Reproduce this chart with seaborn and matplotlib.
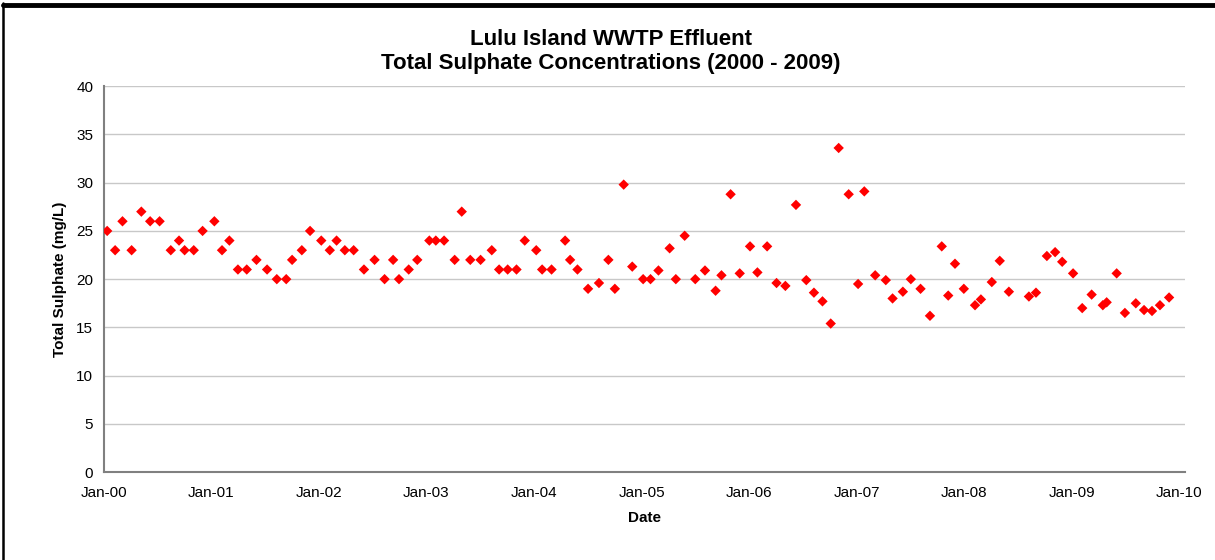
import pandas as pd
import matplotlib.pyplot as plt
import matplotlib.dates as mdates
from matplotlib.lines import Line2D
import seaborn as sns

# sample dates and total sulphate readings (mg/L)
dates = [
    "2000-01-13", "2000-02-09", "2000-03-05", "2000-04-05", "2000-05-08", "2000-06-07",
    "2000-07-09", "2000-08-16", "2000-09-13", "2000-10-02", "2000-11-02", "2000-12-02",
    "2001-01-11", "2001-02-06", "2001-03-03", "2001-04-01", "2001-05-01", "2001-06-03",
    "2001-07-09", "2001-08-11", "2001-09-12", "2001-10-02", "2001-11-04", "2001-12-02",
    "2002-01-09", "2002-02-07", "2002-03-02", "2002-03-30", "2002-04-29", "2002-06-03",
    "2002-07-09", "2002-08-12", "2002-09-10", "2002-09-30", "2002-11-02", "2002-12-01",
    "2003-01-11", "2003-02-02", "2003-03-02", "2003-04-07", "2003-05-01", "2003-05-30",
    "2003-07-04", "2003-08-11", "2003-09-05", "2003-10-04", "2003-11-03", "2003-12-01",
    "2004-01-09", "2004-01-29", "2004-03-01", "2004-04-16", "2004-05-03", "2004-05-28",
    "2004-07-03", "2004-08-09", "2004-09-10", "2004-10-02", "2004-11-01", "2004-11-30",
    "2005-01-06", "2005-01-31", "2005-02-27", "2005-04-06", "2005-04-27", "2005-05-27",
    "2005-07-02", "2005-08-04", "2005-09-09", "2005-09-29", "2005-10-30", "2005-11-30",
    "2006-01-04", "2006-01-29", "2006-03-03", "2006-04-04", "2006-05-04", "2006-06-09",
    "2006-07-14", "2006-08-09", "2006-09-07", "2006-10-05", "2006-11-01", "2006-12-05",
    "2007-01-06", "2007-01-27", "2007-03-05", "2007-04-10", "2007-05-03", "2007-06-07",
    "2007-07-04", "2007-08-06", "2007-09-07", "2007-10-17", "2007-11-08", "2007-12-01",
    "2007-12-31", "2008-02-07", "2008-02-27", "2008-04-04", "2008-05-01", "2008-06-01",
    "2008-08-08", "2008-09-01", "2008-10-08", "2008-11-05", "2008-11-29", "2009-01-05",
    "2009-02-05", "2009-03-09", "2009-04-16", "2009-04-29", "2009-06-02", "2009-06-30",
    "2009-08-06", "2009-09-03", "2009-09-30", "2009-10-27", "2009-11-27",
]
sulphate = [
    25, 23, 26, 23, 27, 26, 26, 23, 24, 23, 23, 25,
    26, 23, 24, 21, 21, 22, 21, 20, 20, 22, 23, 25,
    24, 23, 24, 23, 23, 21, 22, 20, 22, 20, 21, 22,
    24, 24, 24, 22, 27, 22, 22, 23, 21, 21, 21, 24,
    23, 21, 21, 24, 22, 21, 19, 19.6, 22, 19, 29.8, 21.3,
    20, 20, 20.9, 23.2, 20, 24.5, 20, 20.9, 18.8, 20.4, 28.8, 20.6,
    23.4, 20.7, 23.4, 19.6, 19.3, 27.7, 19.9, 18.6, 17.7, 15.4, 33.6, 28.8,
    19.5, 29.1, 20.4, 19.9, 18.0, 18.7, 20.0, 19.0, 16.2, 23.4, 18.3, 21.6,
    19.0, 17.3, 17.9, 19.7, 21.9, 18.7, 18.2, 18.6, 22.4, 22.8, 21.8, 20.6,
    17.0, 18.4, 17.3, 17.6, 20.6, 16.5, 17.5, 16.8, 16.7, 17.3, 18.1,
]

df = pd.DataFrame({"Date": pd.to_datetime(dates), "Sulphate": sulphate})

sns.set_style("white")
plt.rcParams["font.family"] = ["Liberation Sans", "DejaVu Sans"]
plt.rcParams["text.color"] = "black"
plt.rcParams["axes.labelcolor"] = "black"

fig = plt.figure(figsize=(12.15, 5.6), dpi=100)
ax = fig.add_axes([0.0853, 0.157, 0.89, 0.689])

sns.scatterplot(data=df, x="Date", y="Sulphate", marker="D", s=28,
                color="#ff0000", edgecolor="none", ax=ax, zorder=3)

ax.set_ylim(0, 40)
ax.set_yticks(range(0, 41, 5))
ax.set_xlim(pd.Timestamp("2000-01-01"), pd.Timestamp("2010-01-20"))
ax.set_xticks(pd.date_range("2000-01-01", "2010-01-01", freq="YS"))
ax.xaxis.set_major_formatter(mdates.DateFormatter("%b-%y"))

ax.yaxis.grid(True, color="#c8c8c8", linewidth=1)
ax.set_axisbelow(True)
for side in ["top", "right"]:
    ax.spines[side].set_visible(False)
for side in ["left", "bottom"]:
    ax.spines[side].set_color("#808080")
    ax.spines[side].set_linewidth(1.5)
ax.tick_params(axis="both", labelsize=11, colors="black", length=4,
               width=1, direction="out")
ax.tick_params(axis="x", pad=6)

ax.set_xlabel("Date", fontsize=11, fontweight="bold", labelpad=8)
ax.set_ylabel("Total Sulphate (mg/L)", fontsize=11, fontweight="bold", labelpad=7)
fig.suptitle("Lulu Island WWTP Effluent\nTotal Sulphate Concentrations (2000 - 2009)",
             x=0.503, y=0.948, va="top", fontsize=16, fontweight="bold",
             linespacing=1.18, color="black")

# black frame pieces around the chart
fig.add_artist(Line2D([0.0025, 1.0], [0.991, 0.991], color="black", linewidth=3.5,
                      transform=fig.transFigure))
fig.add_artist(Line2D([0.0022, 0.0022], [0.0, 0.994], color="black", linewidth=1.8,
                      transform=fig.transFigure))

plt.savefig("out.png", dpi=100)
